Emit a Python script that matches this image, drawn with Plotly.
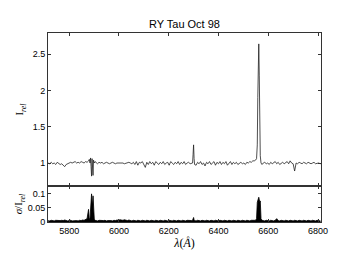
import plotly.graph_objects as go

# ---- data ----
WAVE_BLUE = [5716, 5722, 5728, 5734, 5740, 5746, 5752, 5758, 5764, 5770,
             5776, 5782, 5788, 5794, 5800, 5806, 5812, 5818, 5824, 5830,
             5836, 5842, 5848, 5854, 5860, 5866, 5872, 5878]
FLUX_BLUE = [1.00, 0.99, 1.01, 0.99, 1.00, 0.98, 1.01, 0.99, 0.98, 0.99,
             0.97, 0.95, 0.98, 0.99, 1.00, 1.01, 1.00, 1.01, 1.02, 1.00,
             1.01, 1.00, 1.02, 1.01, 1.00, 1.02, 1.01, 1.03]
SIG_BLUE = [0.005, 0.004, 0.006, 0.005, 0.004, 0.006, 0.005, 0.004, 0.005, 0.006,
            0.005, 0.007, 0.005, 0.004, 0.005, 0.006, 0.004, 0.005, 0.006, 0.005,
            0.004, 0.006, 0.005, 0.007, 0.006, 0.008, 0.012, 0.045]

WAVE_NAD = [5881, 5884, 5886, 5888, 5890, 5892, 5894, 5896, 5898, 5901, 5904]
FLUX_NAD = [1.05, 1.00, 1.07, 0.95, 0.82, 1.06, 0.95, 0.83, 1.04, 1.00, 1.02]
SIG_NAD = [0.008, 0.015, 0.035, 0.07, 0.10, 0.075, 0.06, 0.093, 0.05, 0.01, 0.006]

WAVE_MID = [5908, 5914, 5920, 5926, 5932, 5938, 5944, 5950, 5956, 5962,
            5968, 5974, 5980, 5986, 5992, 5998, 6004, 6010, 6016, 6022,
            6028, 6034, 6040, 6046, 6052, 6058, 6064, 6070, 6076, 6082,
            6088, 6094, 6100, 6106, 6112, 6118, 6124, 6130, 6136, 6142,
            6148, 6154, 6160, 6166, 6172, 6178, 6184, 6190, 6196, 6202,
            6208, 6214, 6220, 6226, 6232, 6238, 6244, 6250, 6256, 6262,
            6268, 6274, 6280, 6286, 6292]
FLUX_MID = [1.01, 0.99, 1.01, 1.00, 1.01, 0.99, 1.00, 1.01, 1.00, 0.99,
            1.00, 1.01, 1.00, 0.99, 1.00, 1.00, 1.00, 1.01, 1.00, 0.99,
            1.00, 1.00, 1.01, 1.00, 0.99, 1.01, 0.98, 1.02, 0.97, 1.01,
            1.00, 1.02, 0.98, 0.94, 1.01, 0.98, 1.02, 0.99, 1.01, 0.97,
            1.02, 1.00, 0.98, 1.01, 0.99, 1.02, 0.98, 1.00, 1.01, 0.97,
            1.02, 1.00, 0.98, 1.01, 0.99, 1.02, 0.98, 1.01, 0.99, 1.02,
            0.98, 1.00, 1.01, 0.99, 1.00]
SIG_MID = [0.005, 0.004, 0.006, 0.005, 0.004, 0.005, 0.006, 0.004, 0.005, 0.006,
           0.005, 0.004, 0.006, 0.005, 0.007, 0.006, 0.008, 0.007, 0.006, 0.008,
           0.006, 0.005, 0.007, 0.005, 0.004, 0.006, 0.005, 0.004, 0.006, 0.005,
           0.004, 0.006, 0.005, 0.004, 0.006, 0.005, 0.004, 0.006, 0.005, 0.004,
           0.006, 0.005, 0.004, 0.006, 0.005, 0.004, 0.006, 0.005, 0.004, 0.006,
           0.005, 0.004, 0.006, 0.005, 0.004, 0.006, 0.005, 0.004, 0.006, 0.005,
           0.004, 0.006, 0.005, 0.004, 0.005]

WAVE_OI = [6296, 6298, 6300, 6302, 6304]
FLUX_OI = [1.00, 1.12, 1.25, 1.06, 0.98]
SIG_OI = [0.006, 0.010, 0.016, 0.008, 0.005]

WAVE_RED1 = [6310, 6316, 6322, 6328, 6334, 6340, 6346, 6352, 6358, 6364,
             6370, 6376, 6382, 6388, 6394, 6400, 6406, 6412, 6418, 6424,
             6430, 6436, 6442, 6448, 6454, 6460, 6466, 6472, 6478, 6484,
             6490, 6496, 6502, 6508, 6514, 6520, 6526, 6532, 6538, 6544]
FLUX_RED1 = [0.97, 1.01, 0.99, 1.02, 0.98, 1.00, 0.96, 1.01, 0.99, 1.02,
             0.98, 1.00, 1.02, 0.97, 1.01, 0.99, 1.02, 0.98, 1.01, 0.99,
             1.02, 0.97, 1.00, 1.02, 0.98, 1.01, 0.99, 1.01, 0.98, 1.00,
             1.01, 0.99, 1.00, 0.98, 1.01, 1.00, 1.02, 1.01, 1.03, 1.03]
SIG_RED1 = [0.004, 0.006, 0.005, 0.004, 0.006, 0.005, 0.004, 0.006, 0.005, 0.004,
            0.006, 0.005, 0.004, 0.006, 0.005, 0.004, 0.006, 0.005, 0.004, 0.006,
            0.005, 0.004, 0.006, 0.005, 0.004, 0.006, 0.005, 0.004, 0.006, 0.005,
            0.004, 0.006, 0.005, 0.004, 0.006, 0.005, 0.004, 0.006, 0.005, 0.006]

WAVE_HA = [6549, 6553, 6556, 6558, 6560, 6562, 6564, 6566, 6568, 6571, 6575]
FLUX_HA = [1.04, 1.06, 1.25, 1.90, 2.20, 2.64, 2.20, 1.50, 1.10, 1.00, 0.98]
SIG_HA = [0.006, 0.012, 0.07, 0.078, 0.085, 0.088, 0.08, 0.07, 0.075, 0.012, 0.006]

WAVE_RED2 = [6580, 6586, 6592, 6598, 6604, 6610, 6616, 6622, 6628, 6634,
             6640, 6646, 6652, 6658, 6664, 6670, 6676, 6682, 6688, 6694,
             6700, 6706, 6712, 6718, 6724, 6730, 6736, 6742, 6748, 6754,
             6760, 6766, 6772, 6778, 6784, 6790, 6796, 6802, 6810]
FLUX_RED2 = [1.00, 1.01, 0.99, 1.00, 0.98, 1.01, 0.99, 1.00, 1.02, 0.99,
             1.01, 0.98, 1.00, 1.01, 0.99, 1.00, 1.02, 0.99, 1.03, 1.00,
             0.99, 0.89, 1.00, 0.99, 1.01, 1.00, 0.99, 1.01, 1.00, 0.99,
             1.01, 1.00, 0.99, 1.00, 1.01, 0.99, 1.00, 1.00, 0.99]
SIG_RED2 = [0.005, 0.004, 0.006, 0.005, 0.004, 0.006, 0.005, 0.004, 0.006, 0.012,
            0.005, 0.004, 0.006, 0.005, 0.004, 0.006, 0.005, 0.004, 0.006, 0.005,
            0.004, 0.006, 0.005, 0.004, 0.006, 0.005, 0.004, 0.006, 0.005, 0.004,
            0.006, 0.005, 0.004, 0.006, 0.005, 0.004, 0.006, 0.005, 0.004]

X_TICKS = [5800, 6000, 6200, 6400, 6600, 6800]
Y_TICKS_TOP = [1, 1.5, 2, 2.5]
Y_TICKS_BOT = [0, 0.05, 0.1]
Y_TICKTEXT_BOT = ["0", "0.05", "0.1"]

wave = WAVE_BLUE + WAVE_NAD + WAVE_MID + WAVE_OI + WAVE_RED1 + WAVE_HA + WAVE_RED2
flux = FLUX_BLUE + FLUX_NAD + FLUX_MID + FLUX_OI + FLUX_RED1 + FLUX_HA + FLUX_RED2
sigma = SIG_BLUE + SIG_NAD + SIG_MID + SIG_OI + SIG_RED1 + SIG_HA + SIG_RED2
assert len(wave) == len(flux) == len(sigma)

fig = go.Figure()
fig.add_trace(go.Scatter(x=wave, y=flux, mode="lines",
                         line=dict(color="#222222", width=0.8),
                         xaxis="x2", yaxis="y", showlegend=False))
fig.add_trace(go.Scatter(x=wave, y=sigma, mode="lines", fill="tozeroy",
                         fillcolor="black", line=dict(color="black", width=0.8),
                         xaxis="x", yaxis="y2", showlegend=False))

XR = [5715, 6812]
axis_common = dict(showline=True, linecolor="#333333", linewidth=1, mirror="ticks",
                   ticks="inside", ticklen=3, tickcolor="#333333", showgrid=False,
                   zeroline=False, automargin=False,
                   tickfont=dict(family="Liberation Sans", size=9, color="black"))
split = 0.189

# the page body adds an 8 px offset, so the figure is sized to fit the window
W, H = 333, 248
fig.update_layout(
    width=W, height=H,
    margin=dict(l=40, r=20, t=25, b=34),
    paper_bgcolor="white", plot_bgcolor="white",
    title=dict(text="RY Tau Oct 98", x=0.5, xref="paper", xanchor="center",
               y=1 - 16 / H, yanchor="middle", yref="container",
               font=dict(family="Liberation Sans", size=11, color="black")),
    xaxis=dict(range=XR, domain=[0, 1], anchor="y2", tickvals=X_TICKS,
               title=dict(text="<i>λ</i>(<i>Å</i>)", standoff=0,
                          font=dict(family="Liberation Serif", size=12, color="black")),
               **axis_common),
    xaxis2=dict(range=XR, domain=[0, 1], anchor="y", matches="x", tickvals=X_TICKS,
                showticklabels=False, **axis_common),
    yaxis=dict(range=[0.68, 2.79], domain=[split, 1], anchor="x2", tickvals=Y_TICKS_TOP,
               title=dict(text="I<sub><i>rel</i></sub>", standoff=6,
                          font=dict(family="Liberation Serif", size=11, color="black")),
               **axis_common),
    yaxis2=dict(range=[0, 0.127], domain=[0, split], anchor="x", tickvals=Y_TICKS_BOT,
                ticktext=Y_TICKTEXT_BOT,
                title=dict(text="<i>σ</i>/I<sub><i>rel</i></sub>", standoff=2,
                           font=dict(family="Liberation Serif", size=11, color="black")),
                **axis_common),
)

fig.write_html("out.html")
